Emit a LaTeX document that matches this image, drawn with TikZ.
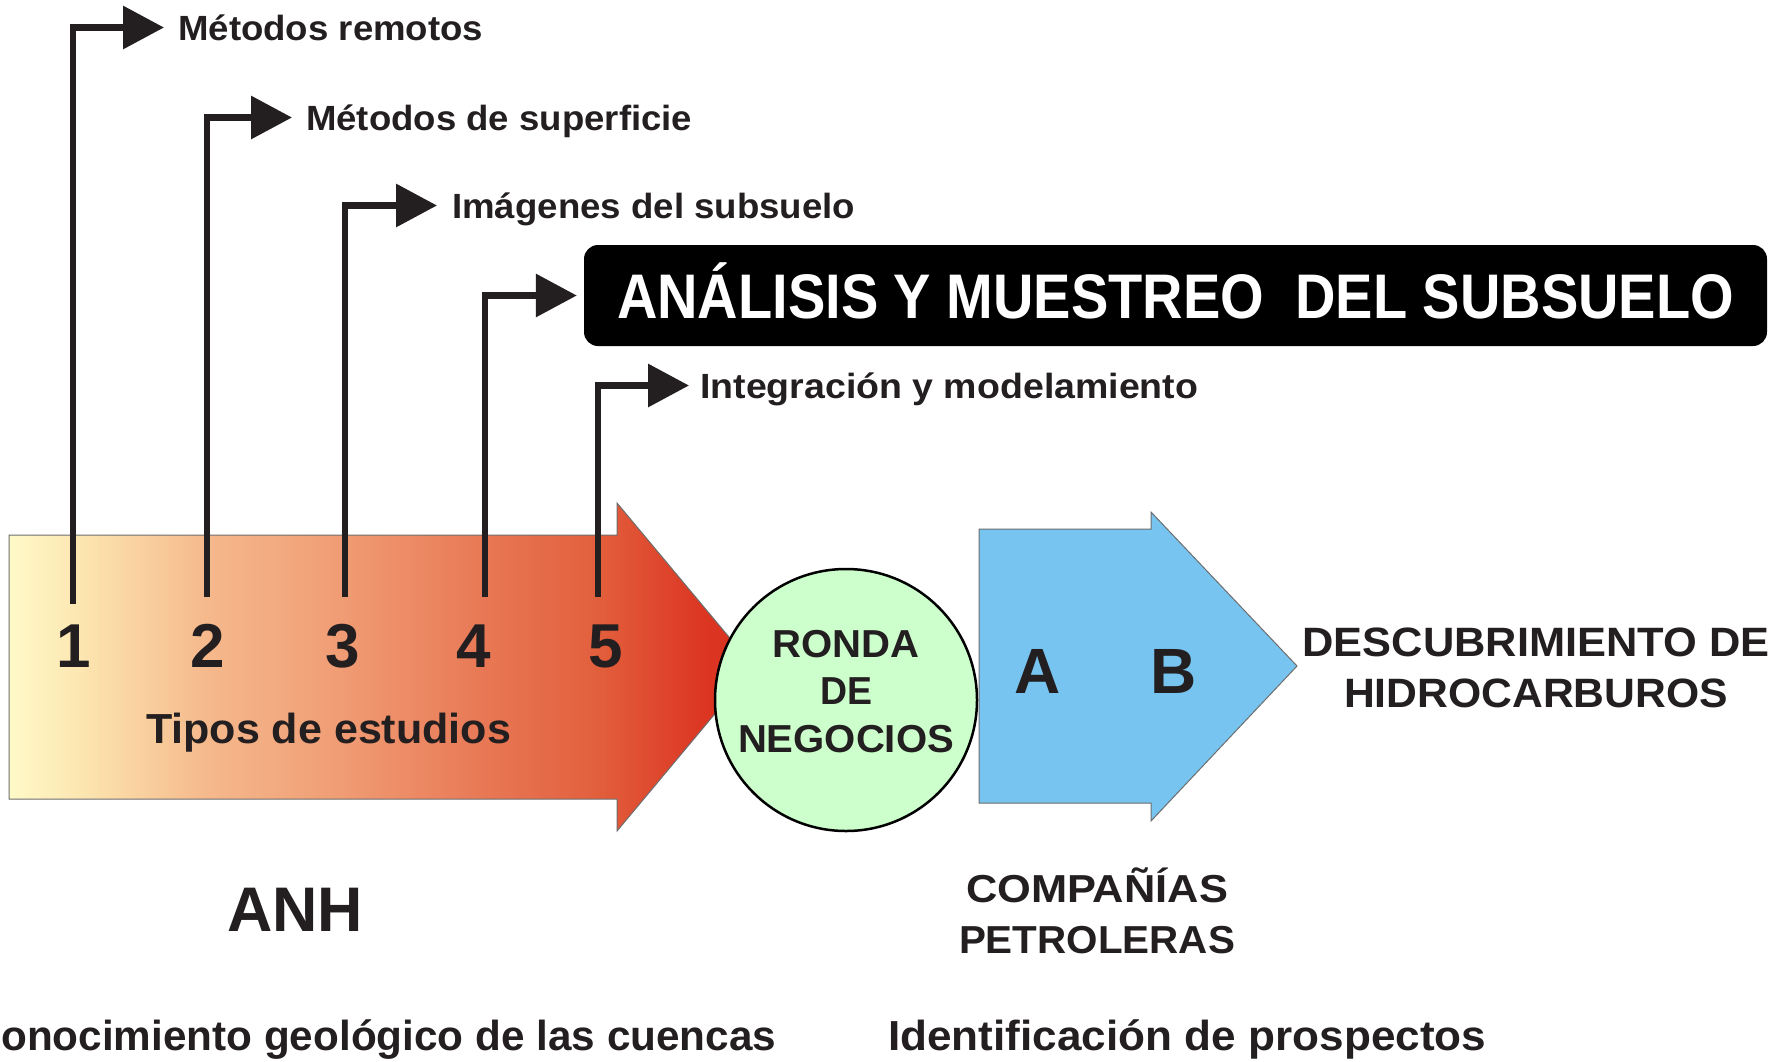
\documentclass[tikz,border=0pt]{standalone}
\usepackage{fontspec}
\setmainfont{Liberation Sans}
\usepackage{graphicx}
\usetikzlibrary{arrows.meta}
\definecolor{ink}{HTML}{231F20}
\definecolor{sky}{RGB}{118,196,239}
\definecolor{mint}{RGB}{204,255,204}
\definecolor{edge}{RGB}{110,110,110}
\definecolor{oa}{RGB}{255,250,200}
\definecolor{ob}{RGB}{252,228,175}
\definecolor{oc}{RGB}{245,185,140}
\definecolor{od}{RGB}{240,155,115}
\definecolor{oe}{RGB}{232,120,85}
\definecolor{of}{RGB}{226,95,60}
\definecolor{og}{RGB}{220,55,35}
\definecolor{oh}{RGB}{216,45,30}
\pgfdeclarehorizontalshading{anhshade}{100bp}{color(0bp)=(oa); color(25bp)=(oa); color(30.2bp)=(ob); color(38.2bp)=(oc); color(47.6bp)=(od); color(56.9bp)=(oe); color(64.5bp)=(of); color(71.4bp)=(og); color(75bp)=(oh); color(100bp)=(oh)}
\newlength\tlen
\newcommand\fitt[2]{\settowidth\tlen{#2}\pgfmathsetmacro\fitsx{#1/\tlen}\scalebox{\fitsx}[1]{#2}}
\begin{document}
\begin{tikzpicture}[x=1pt,y=-1pt,
  conn/.style={draw=ink,line width=6.5pt,-{Triangle[length=41pt,width=42pt]}},
  toplbl/.style={inner sep=0pt,anchor=base west,text=ink,text height=25pt,text depth=0pt,font=\fontsize{35}{35}\selectfont\bfseries},
  numlbl/.style={inner sep=0pt,anchor=base,text=ink,font=\fontsize{62}{62}\selectfont\bfseries},
  biglbl/.style={inner sep=0pt,anchor=base,text=ink,font=\fontsize{64}{64}\selectfont\bfseries},
  midlbl/.style={inner sep=0pt,anchor=base,text=ink,align=center},
  botlbl/.style={inner sep=0pt,text=ink,font=\fontsize{42}{42}\selectfont\bfseries}]
\useasboundingbox (0,0) rectangle (1785,1061);
\fill[white] (0,0) rectangle (1785,1061);
% orange arrow
\path[shade,shading=anhshade,draw=edge,line width=1pt]
  (9,535) -- (617,535) -- (617,503) -- (754,667) -- (617,831) -- (617,799) -- (9,799) -- cycle;
% blue arrow
\path[fill=sky,draw=edge,line width=1pt]
  (979,529) -- (1151,529) -- (1151,512) -- (1297,666) -- (1151,821) -- (1151,803) -- (979,803) -- cycle;
% circle
\node[circle,draw=black,line width=2.5pt,fill=mint,minimum size=262pt,inner sep=0pt] (ronda) at (846,700) {};
\node[midlbl,font=\fontsize{39}{47.5}\selectfont\bfseries] (rondat) at (846,752)
  {\fitt{147}{RONDA}\\\fitt{52}{DE}\\\fitt{216}{NEGOCIOS}};
% numbers
\node[numlbl] (n1) at (74,667) {1};
\node[numlbl] (n2) at (208,667) {2};
\node[numlbl] (n3) at (343,667) {3};
\node[numlbl] (n4) at (474,667) {4};
\node[numlbl] (n5) at (606,667) {5};
\node[midlbl,font=\fontsize{42}{42}\selectfont\bfseries] (tipos) at (328.5,743) {\fitt{365}{Tipos de estudios}};
% A B
\node[biglbl] (la) at (1038,693) {A};
\node[biglbl] (lb) at (1174,693) {B};
% right text
\node[midlbl,font=\fontsize{41}{51}\selectfont\bfseries] (desc) at (1536,707)
  {\fitt{467}{DESCUBRIMIENTO DE}\\\fitt{384}{HIDROCARBUROS}};
\node[midlbl,font=\fontsize{39}{51}\selectfont\bfseries] (comp) at (1097,953)
  {\fitt{262}{COMPAÑÍAS}\\\fitt{276}{PETROLERAS}};
\node[biglbl,font=\fontsize{63}{63}\selectfont\bfseries] (anh) at (295,931) {\fitt{136}{ANH}};
\node[botlbl,anchor=base west] (cono) at (1,1050) {\fitt{775}{onocimiento geológico de las cuencas}};
\node[botlbl,anchor=base west] (ident) at (888,1050) {\fitt{598}{Identificación de prospectos}};
% top labels
\node[toplbl] (m1) at (178,40) {\fitt{305}{Métodos remotos}};
\node[toplbl] (m2) at (306,130) {\fitt{386}{Métodos de superficie}};
\node[toplbl] (m3) at (452,218) {\fitt{403}{Imágenes del subsuelo}};
\node[toplbl] (m5) at (700,398) {\fitt{498}{Integración y modelamiento}};
\node[fill=black,rounded corners=14pt,minimum width=1183pt,minimum height=101pt,inner sep=0pt,
  text=white,text height=45pt,text depth=0pt,font=\fontsize{63}{63}\selectfont\bfseries] (analisis) at (1175.5,295.5)
  {\fitt{1117}{ANÁLISIS Y MUESTREO\ \ DEL SUBSUELO}};
% connectors
\coordinate (b1) at (73,604);
\coordinate (b2) at (207,597);
\coordinate (b3) at (345,597);
\coordinate (b4) at (485,597);
\coordinate (b5) at (598,597);
\draw[conn] (b1) |- ([xshift=-14pt]m1.west);
\draw[conn] (b2) |- ([xshift=-14pt]m2.west);
\draw[conn] (b3) |- ([xshift=-15pt]m3.west);
\draw[conn] (b4) |- ([xshift=-7pt]analisis.west);
\draw[conn] (b5) |- ([xshift=-11pt]m5.west);
\end{tikzpicture}
\end{document}
